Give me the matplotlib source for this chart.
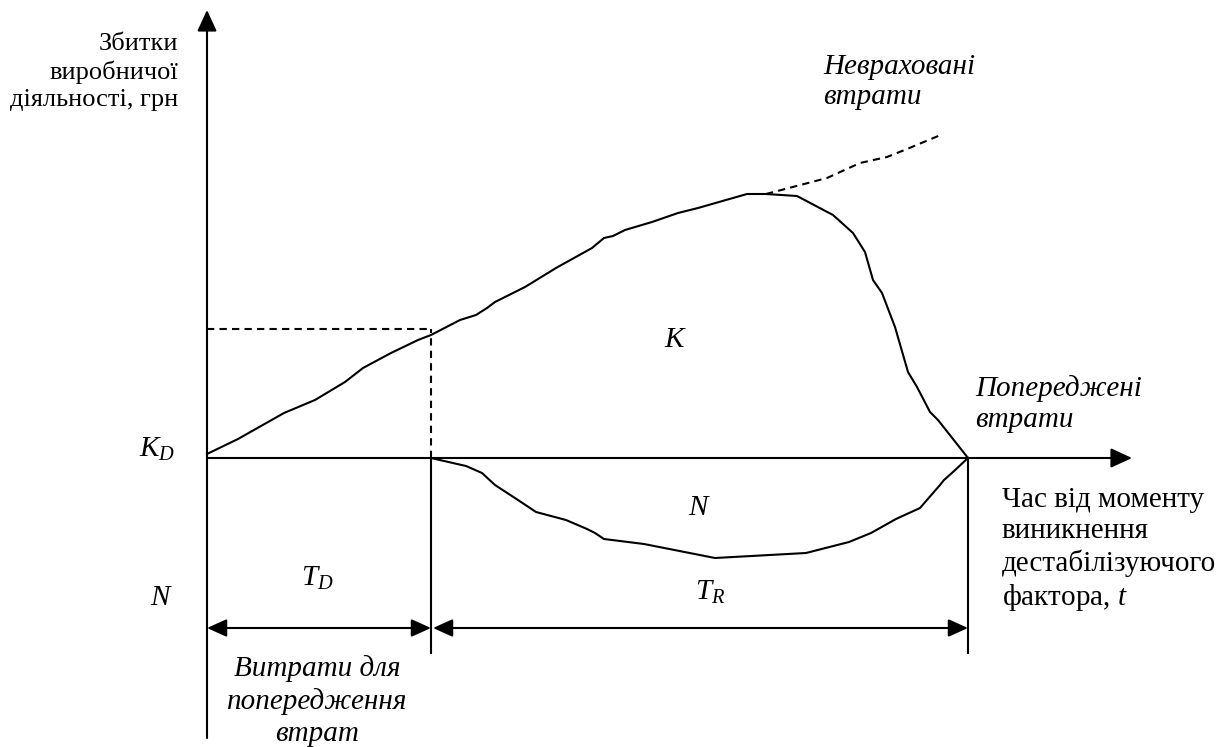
import matplotlib
matplotlib.use("Agg")
import matplotlib.pyplot as plt

plt.rcParams['font.family'] = ['Liberation Serif', 'DejaVu Serif']
plt.rcParams['mathtext.fontset'] = 'custom'
plt.rcParams['mathtext.it'] = 'Liberation Serif:italic'
plt.rcParams['mathtext.rm'] = 'Liberation Serif'

# Loss curve above the time axis (K region)
loss_t = [0.0, 3.1, 7.7, 10.8, 13.8, 15.6, 18.4, 21.1, 22.4, 25.3, 26.9, 28.0, 28.8,
          31.8, 34.9, 38.5, 39.7, 40.6, 41.8, 44.5, 47.1, 49.1, 54.0, 55.9, 59.0,
          62.6, 64.6, 65.8, 66.6, 67.5, 68.8, 70.1, 71.0, 72.3, 73.1, 76.1]
loss_v = [0.4, 1.9, 4.5, 5.8, 7.6, 9.0, 10.5, 11.8, 12.3, 13.8, 14.3, 15.0, 15.6,
          17.1, 19.0, 21.0, 22.0, 22.2, 22.8, 23.6, 24.5, 25.0, 26.4, 26.4, 26.2,
          24.3, 22.5, 20.6, 17.8, 16.5, 13.1, 8.6, 7.1, 4.6, 3.8, 0.0]

# Unaccounted losses (dashed continuation)
extra_t = [55.9, 62.0, 65.3, 68.0, 70.0, 73.6]
extra_v = [26.4, 28.0, 29.5, 30.1, 30.9, 32.4]

# Prevention costs curve below the axis (N region)
cost_t = [22.4, 25.9, 27.5, 28.8, 31.1, 32.9, 35.9, 38.0, 38.8, 39.7, 43.7, 50.8,
          59.9, 64.2, 66.4, 68.9, 71.3, 73.3, 73.7, 74.6, 76.1]
cost_v = [0.0, -0.8, -1.5, -2.7, -4.2, -5.4, -6.2, -7.1, -7.5, -8.1, -8.6, -10.0,
          -9.5, -8.4, -7.5, -6.1, -5.0, -2.7, -2.2, -1.4, 0.0]

T_D = 22.4        # end of prevention period
T_END = 76.1      # end of recovery period
K_LEVEL = 12.9    # loss level at T_D

fig = plt.figure(figsize=(12.29, 7.47), dpi=100)
ax = fig.add_axes([0, 0, 1, 1])
ax.set_xlim(-20.7, 102.2)
ax.set_ylim(-28.9, 45.8)
ax.axis('off')

lw = 1.5
dash = (0, (3.5, 2.5))
head = '-|>,head_length=0.65,head_width=0.3'
both = '<|-|>,head_length=0.6,head_width=0.27'

# axes with arrows
ax.annotate('', xy=(0, 44.8), xytext=(0, -28.0),
            arrowprops=dict(arrowstyle=head, lw=lw, color='k', shrinkA=0, shrinkB=0, mutation_scale=20))
ax.annotate('', xy=(92.5, 0), xytext=(0, 0),
            arrowprops=dict(arrowstyle=head, lw=lw, color='k', shrinkA=0, shrinkB=0, mutation_scale=20))

# curves
ax.plot(loss_t, loss_v, color='k', lw=lw)
ax.plot(extra_t, extra_v, color='k', lw=lw, linestyle=dash)
ax.plot(cost_t, cost_v, color='k', lw=lw)

# dashed guides at T_D
ax.plot([0, T_D], [K_LEVEL, K_LEVEL], color='k', lw=lw, linestyle=dash)
ax.plot([T_D, T_D], [0, K_LEVEL], color='k', lw=lw, linestyle=dash)

# vertical bounds of the periods
ax.plot([T_D, T_D], [0, -19.5], color='k', lw=lw)
ax.plot([T_END, T_END], [0, -19.5], color='k', lw=lw)

# dimension arrows
ax.annotate('', xy=(T_D, -17.0), xytext=(0, -17.0),
            arrowprops=dict(arrowstyle=both, lw=lw, color='k', shrinkA=0, shrinkB=0, mutation_scale=20))
ax.annotate('', xy=(T_END, -17.0), xytext=(T_D + 0.2, -17.0),
            arrowprops=dict(arrowstyle=both, lw=lw, color='k', shrinkA=0, shrinkB=0, mutation_scale=20))

fs = 21
ls = 1.25
ax.text(-2.9, 38.6, 'Збитки\nвиробничої\nдіяльності, грн', ha='right', va='center',
        multialignment='right', fontsize=19, linespacing=1.3)
ax.text(61.6, 37.6, 'Невраховані\nвтрати', ha='left', va='center', style='italic',
        fontsize=fs, linespacing=ls)
ax.text(46.9, 11.8, '$K$', ha='center', va='center', fontsize=fs)
ax.text(76.8, 5.4, 'Попереджені\nвтрати', ha='left', va='center', style='italic',
        fontsize=fs, linespacing=ls)
ax.text(-5.0, 0.1, '$K_D$', ha='center', va='baseline', fontsize=fs)
ax.text(79.5, -9.2, 'Час від моменту\nвиникнення\nдестабілізуючого\nфактора, $t$',
        ha='left', va='center', fontsize=fs, linespacing=ls)
ax.text(49.3, -5.0, '$N$', ha='center', va='center', fontsize=fs)
ax.text(11.0, -12.0, '$T_D$', ha='center', va='center', fontsize=fs)
ax.text(-4.6, -14.0, '$N$', ha='center', va='center', fontsize=fs)
ax.text(50.3, -13.4, '$T_R$', ha='center', va='center', fontsize=fs)
ax.text(11.0, -24.3, 'Витрати для\nпопередження\nвтрат', ha='center', va='center',
        style='italic', fontsize=fs, linespacing=1.28)

fig.savefig('out.png', dpi=100)
